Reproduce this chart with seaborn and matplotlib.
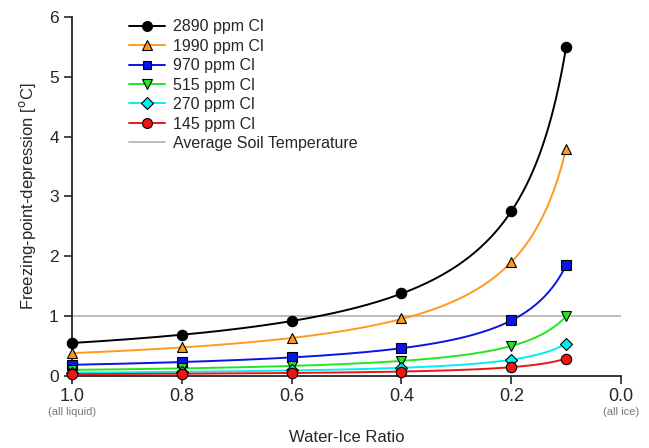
import numpy as np
import pandas as pd
import matplotlib
matplotlib.use('Agg')
import matplotlib.pyplot as plt
from matplotlib.lines import Line2D
import seaborn as sns

sns.set_style('ticks')
plt.rcParams['font.family'] = ['Liberation Sans', 'DejaVu Sans']

# 数据
ratio = [1.0, 0.8, 0.6, 0.4, 0.2, 0.1]
labels = ['2890 ppm Cl', '1990 ppm Cl', '970 ppm Cl', '515 ppm Cl', '270 ppm Cl', '145 ppm Cl']
fpd_2890 = [0.55, 0.69, 0.92, 1.38, 2.75, 5.50]
fpd_1990 = [0.38, 0.48, 0.64, 0.96, 1.90, 3.80]
fpd_970 = [0.185, 0.23, 0.31, 0.46, 0.93, 1.85]
fpd_515 = [0.10, 0.125, 0.165, 0.25, 0.50, 1.00]
fpd_270 = [0.055, 0.07, 0.09, 0.135, 0.27, 0.54]
fpd_145 = [0.03, 0.036, 0.048, 0.072, 0.145, 0.29]
soil_temp = 1.0

series = [fpd_2890, fpd_1990, fpd_970, fpd_515, fpd_270, fpd_145]
colors = ['#000000', '#ff9a1e', '#0a14e6', '#22e622', '#00f0f0', '#f01414']
markers = ['o', '^', 's', 'v', 'D', 'o']
msizes = [7.5, 7, 6.5, 7, 6, 7.5]

fig = plt.figure(figsize=(6.49, 4.48), dpi=100)
ax = fig.add_axes([0.111, 0.161, 0.846, 0.801])

ax.axhline(soil_temp, color='#b8b8ac', lw=1.3, zorder=1)

# 拟合曲线 y = c / x（由数据点最小二乘得到 c）
xr = np.array(ratio)
xs = np.linspace(1.0, 0.1, 200)
for vals, col, mk, ms in zip(series, colors, markers, msizes):
    v = np.array(vals)
    c = np.sum(v / xr) / np.sum(1 / xr ** 2)
    curve = pd.DataFrame({'x': xs, 'y': c / xs})
    sns.lineplot(data=curve, x='x', y='y', color=col, lw=1.4, ax=ax,
                 legend=False, sort=False, zorder=2)
    ax.plot(ratio, vals, linestyle='none', marker=mk, ms=ms, mfc=col,
            mec='black', mew=0.8, clip_on=False, zorder=3)

ax.set_xlim(1.0, 0.0)
ax.set_ylim(0, 6)
ax.set_xticks([1.0, 0.8, 0.6, 0.4, 0.2, 0.0])
ax.set_xticklabels(['1.0', '0.8', '0.6', '0.4', '0.2', '0.0'], fontsize=13)
ax.set_yticks(range(0, 7))
ax.tick_params(axis='y', labelsize=12.5, direction='out', length=6, width=1.2)
ax.tick_params(axis='x', direction='out', length=6, width=1.2, pad=2.5)
for s in ['left', 'bottom']:
    ax.spines[s].set_linewidth(1.3)
sns.despine(ax=ax)

ax.set_xlabel('Water-Ice Ratio', fontsize=12, labelpad=18)
ax.set_ylabel('Freezing-point-depression [$^{\\mathrm{o}}$C]', fontsize=12, labelpad=8)

trans = ax.get_xaxis_transform()
ax.text(1.0, -0.087, '(all liquid)', transform=trans, ha='center', va='top',
        fontsize=8, color='#777777')
ax.text(0.0, -0.087, '(all ice)', transform=trans, ha='center', va='top',
        fontsize=8, color='#777777')

handles = []
for lab, col, mk, ms in zip(labels, colors, markers, msizes):
    handles.append(Line2D([], [], color=col, lw=1.4, marker=mk, ms=ms * 0.95,
                          mfc=col, mec='black', mew=0.8, label=lab))
handles.append(Line2D([], [], color='#b8b8ac', lw=1.3, label='Average Soil Temperature'))
ax.legend(handles=handles, loc='upper left', bbox_to_anchor=(0.078, 1.034),
          frameon=False, fontsize=11.5, handlelength=2.25, labelspacing=0.28,
          handletextpad=0.5)

plt.savefig('out.png', dpi=100)
plt.close()
